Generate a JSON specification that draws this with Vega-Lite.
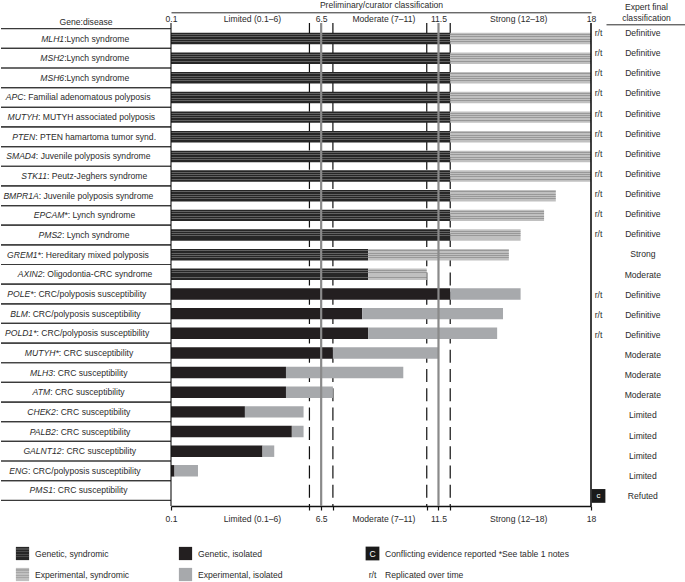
{
  "$schema": "https://vega.github.io/schema/vega-lite/v6.json",
  "padding": {"left": 0, "right": 0, "top": 0, "bottom": 0},
  "config": {
    "view": {"stroke": null},
    "font": "Liberation Sans",
    "text": {"font": "Liberation Sans", "fontSize": 8.6, "color": "#2b2b2b"},
    "axis": {"labelFont": "Liberation Sans", "titleFont": "Liberation Sans"},
    "title": {"font": "Liberation Sans"},
    "concat": {"spacing": 0}
  },
  "datasets": {
    "genes": [
      {"gene": "MLH1", "disease": ":Lynch syndrome", "replicated": "r/t", "classification": "Definitive", "conflict": ""},
      {"gene": "MSH2", "disease": ":Lynch syndrome", "replicated": "r/t", "classification": "Definitive", "conflict": ""},
      {"gene": "MSH6", "disease": ":Lynch syndrome", "replicated": "r/t", "classification": "Definitive", "conflict": ""},
      {"gene": "APC", "disease": ": Familial adenomatous polyposis", "replicated": "r/t", "classification": "Definitive", "conflict": ""},
      {"gene": "MUTYH", "disease": ": MUTYH associated polyposis", "replicated": "r/t", "classification": "Definitive", "conflict": ""},
      {"gene": "PTEN", "disease": ": PTEN hamartoma tumor synd.", "replicated": "r/t", "classification": "Definitive", "conflict": ""},
      {"gene": "SMAD4", "disease": ": Juvenile polyposis syndrome", "replicated": "r/t", "classification": "Definitive", "conflict": ""},
      {"gene": "STK11", "disease": ": Peutz-Jeghers syndrome", "replicated": "r/t", "classification": "Definitive", "conflict": ""},
      {"gene": "BMPR1A", "disease": ": Juvenile polyposis syndrome", "replicated": "r/t", "classification": "Definitive", "conflict": ""},
      {"gene": "EPCAM*", "disease": ": Lynch syndrome", "replicated": "r/t", "classification": "Definitive", "conflict": ""},
      {"gene": "PMS2", "disease": ": Lynch syndrome", "replicated": "r/t", "classification": "Definitive", "conflict": ""},
      {"gene": "GREM1*", "disease": ": Hereditary mixed polyposis", "replicated": "", "classification": "Strong", "conflict": ""},
      {"gene": "AXIN2", "disease": ": Oligodontia-CRC syndrome", "replicated": "", "classification": "Moderate", "conflict": ""},
      {"gene": "POLE*", "disease": ": CRC/polyposis susceptibility", "replicated": "r/t", "classification": "Definitive", "conflict": ""},
      {"gene": "BLM", "disease": ": CRC/polyposis susceptibility", "replicated": "r/t", "classification": "Definitive", "conflict": ""},
      {"gene": "POLD1*", "disease": ": CRC/polyposis susceptibility", "replicated": "r/t", "classification": "Definitive", "conflict": ""},
      {"gene": "MUTYH*", "disease": ": CRC susceptibility", "replicated": "", "classification": "Moderate", "conflict": ""},
      {"gene": "MLH3", "disease": ": CRC susceptibility", "replicated": "", "classification": "Moderate", "conflict": ""},
      {"gene": "ATM", "disease": ": CRC susceptibility", "replicated": "", "classification": "Moderate", "conflict": ""},
      {"gene": "CHEK2", "disease": ": CRC susceptibility", "replicated": "", "classification": "Limited", "conflict": ""},
      {"gene": "PALB2", "disease": ": CRC susceptibility", "replicated": "", "classification": "Limited", "conflict": ""},
      {"gene": "GALNT12", "disease": ": CRC susceptibility", "replicated": "", "classification": "Limited", "conflict": ""},
      {"gene": "ENG", "disease": ": CRC/polyposis susceptibility", "replicated": "", "classification": "Limited", "conflict": ""},
      {"gene": "PMS1", "disease": ": CRC susceptibility", "replicated": "", "classification": "Refuted", "conflict": "c"}
    ],
    "scores": [
      {"gene": "MLH1", "evidence": "Genetic, syndromic", "score": 12},
      {"gene": "MLH1", "evidence": "Experimental, syndromic", "score": 6},
      {"gene": "MSH2", "evidence": "Genetic, syndromic", "score": 12},
      {"gene": "MSH2", "evidence": "Experimental, syndromic", "score": 6},
      {"gene": "MSH6", "evidence": "Genetic, syndromic", "score": 12},
      {"gene": "MSH6", "evidence": "Experimental, syndromic", "score": 6},
      {"gene": "APC", "evidence": "Genetic, syndromic", "score": 12},
      {"gene": "APC", "evidence": "Experimental, syndromic", "score": 6},
      {"gene": "MUTYH", "evidence": "Genetic, syndromic", "score": 12},
      {"gene": "MUTYH", "evidence": "Experimental, syndromic", "score": 6},
      {"gene": "PTEN", "evidence": "Genetic, syndromic", "score": 12},
      {"gene": "PTEN", "evidence": "Experimental, syndromic", "score": 6},
      {"gene": "SMAD4", "evidence": "Genetic, syndromic", "score": 12},
      {"gene": "SMAD4", "evidence": "Experimental, syndromic", "score": 6},
      {"gene": "STK11", "evidence": "Genetic, syndromic", "score": 12},
      {"gene": "STK11", "evidence": "Experimental, syndromic", "score": 6},
      {"gene": "BMPR1A", "evidence": "Genetic, syndromic", "score": 12},
      {"gene": "BMPR1A", "evidence": "Experimental, syndromic", "score": 4.5},
      {"gene": "EPCAM*", "evidence": "Genetic, syndromic", "score": 12},
      {"gene": "EPCAM*", "evidence": "Experimental, syndromic", "score": 4},
      {"gene": "PMS2", "evidence": "Genetic, syndromic", "score": 12},
      {"gene": "PMS2", "evidence": "Experimental, syndromic", "score": 3},
      {"gene": "GREM1*", "evidence": "Genetic, syndromic", "score": 8.5},
      {"gene": "GREM1*", "evidence": "Experimental, syndromic", "score": 6},
      {"gene": "AXIN2", "evidence": "Genetic, syndromic", "score": 8.5},
      {"gene": "AXIN2", "evidence": "Experimental, syndromic", "score": 2.5},
      {"gene": "POLE*", "evidence": "Genetic, isolated", "score": 12},
      {"gene": "POLE*", "evidence": "Experimental, isolated", "score": 3},
      {"gene": "BLM", "evidence": "Genetic, isolated", "score": 8.25},
      {"gene": "BLM", "evidence": "Experimental, isolated", "score": 6},
      {"gene": "POLD1*", "evidence": "Genetic, isolated", "score": 8.5},
      {"gene": "POLD1*", "evidence": "Experimental, isolated", "score": 5.5},
      {"gene": "MUTYH*", "evidence": "Genetic, isolated", "score": 7},
      {"gene": "MUTYH*", "evidence": "Experimental, isolated", "score": 4.5},
      {"gene": "MLH3", "evidence": "Genetic, isolated", "score": 5},
      {"gene": "MLH3", "evidence": "Experimental, isolated", "score": 5},
      {"gene": "ATM", "evidence": "Genetic, isolated", "score": 5},
      {"gene": "ATM", "evidence": "Experimental, isolated", "score": 2},
      {"gene": "CHEK2", "evidence": "Genetic, isolated", "score": 3.25},
      {"gene": "CHEK2", "evidence": "Experimental, isolated", "score": 2.5},
      {"gene": "PALB2", "evidence": "Genetic, isolated", "score": 5.25},
      {"gene": "PALB2", "evidence": "Experimental, isolated", "score": 0.5},
      {"gene": "GALNT12", "evidence": "Genetic, isolated", "score": 4},
      {"gene": "GALNT12", "evidence": "Experimental, isolated", "score": 0.5},
      {"gene": "ENG", "evidence": "Genetic, isolated", "score": 0.25},
      {"gene": "ENG", "evidence": "Experimental, isolated", "score": 1},
      {"gene": "PMS1", "evidence": "Genetic, isolated", "score": 0},
      {"gene": "PMS1", "evidence": "Experimental, isolated", "score": 0}
    ],
    "boundaries": [
      {"value": 6, "line": "edge"},
      {"value": 7, "line": "edge"},
      {"value": 11, "line": "edge"},
      {"value": 12, "line": "edge"},
      {"value": 6.5, "line": "midpoint"},
      {"value": 11.5, "line": "midpoint"}
    ],
    "legend": [
      {"entry": "Genetic, syndromic", "column": "syndromic", "line": "top", "symbol": ""},
      {"entry": "Experimental, syndromic", "column": "syndromic", "line": "bottom", "symbol": ""},
      {"entry": "Genetic, isolated", "column": "isolated", "line": "top", "symbol": ""},
      {"entry": "Experimental, isolated", "column": "isolated", "line": "bottom", "symbol": ""},
      {"entry": "Conflicting evidence reported *See table 1 notes", "column": "notes", "line": "top", "symbol": "C"},
      {"entry": "Replicated over time", "column": "notes", "line": "bottom", "symbol": "r/t"}
    ]
  },
  "spacing": 20,
  "vconcat": [
    {
      "spacing": 0,
      "bounds": "flush",
      "hconcat": [
        {
          "width": 170,
          "height": 483,
          "data": {"name": "genes"},
          "title": {"text": "Gene:disease", "fontSize": 8.6, "fontWeight": "normal", "color": "#2b2b2b", "anchor": "middle", "offset": -11, "baseline": "alphabetic"},
          "layer": [
            {
              "mark": {"type": "rule", "color": "#3a3a3a", "strokeWidth": 1.2},
              "encoding": {"y": {"field": "gene", "type": "nominal", "sort": null, "bandPosition": 0, "axis": null, "scale": {"paddingInner": 0, "paddingOuter": 0.29}}}
            },
            {
              "mark": {"type": "rule", "color": "#3a3a3a", "strokeWidth": 1.2},
              "encoding": {"y": {"field": "gene", "type": "nominal", "sort": null, "bandPosition": 1, "axis": null}}
            },
            {
              "mark": {"type": "text", "align": "right", "fontStyle": "italic", "fontSize": 8.6, "dx": {"expr": "(length(datum.gene)*5.75 - length(datum.disease)*4.45)/2"}},
              "encoding": {
                "x": {"datum": 0.5, "type": "quantitative", "scale": {"domain": [0, 1]}, "axis": null},
                "y": {"field": "gene", "type": "nominal", "sort": null, "axis": null},
                "text": {"field": "gene"}
              }
            },
            {
              "mark": {"type": "text", "align": "left", "fontSize": 8.6, "dx": {"expr": "(length(datum.gene)*5.75 - length(datum.disease)*4.45)/2"}},
              "encoding": {
                "x": {"datum": 0.5, "type": "quantitative"},
                "y": {"field": "gene", "type": "nominal", "sort": null, "axis": null},
                "text": {"field": "disease"}
              }
            }
          ]
        },
        {
          "width": 420,
          "height": 483,
          "resolve": {"axis": {"x": "independent"}},
          "layer": [
            {
              "data": {"name": "boundaries"},
              "transform": [{"filter": "datum.line == 'edge'"}],
              "mark": {"type": "rule", "color": "#111111", "strokeWidth": 1.2, "strokeDash": [13, 6.3], "strokeDashOffset": 1.4},
              "encoding": {"x": {"field": "value", "type": "quantitative", "axis": null, "scale": {"domain": [0.1, 18], "nice": false, "zero": false}}}
            },
            {
              "data": {"name": "scores"},
              "mark": {"type": "bar", "clip": true},
              "encoding": {
                "y": {"field": "gene", "type": "nominal", "sort": null, "axis": null, "scale": {"paddingInner": 0.415, "paddingOuter": 0.4975}},
                "x": {
                  "field": "score", "type": "quantitative", "stack": "zero",
                  "axis": {
                    "orient": "top",
                    "values": [0.1, 3.55, 6.5, 9.15, 11.5, 14.9, 18],
                    "labelExpr": "datum.value == 0.1 ? '0.1' : datum.value == 3.55 ? 'Limited (0.1–6)' : datum.value == 6.5 ? '6.5' : datum.value == 9.15 ? 'Moderate (7–11)' : datum.value == 11.5 ? '11.5' : datum.value == 14.9 ? 'Strong (12–18)' : datum.value == 18 ? '18' : ''",
                    "domain": true, "domainColor": "#2b2b2b", "domainWidth": 1,
                    "offset": 10.7, "ticks": false, "grid": false,
                    "labelPadding": -9, "labelBaseline": "alphabetic",
                    "labelFontSize": 8.6, "labelColor": "#2b2b2b", "labelFlush": false, "labelOverlap": false,
                    "title": "Preliminary/curator classification", "titleFontSize": 8.6, "titleFontWeight": "normal", "titleColor": "#2b2b2b", "titlePadding": 3
                  }
                },
                "color": {
                  "field": "evidence", "type": "nominal", "legend": null,
                  "scale": {
                    "domain": ["Genetic, syndromic", "Experimental, syndromic", "Genetic, isolated", "Experimental, isolated"],
                    "range": ["#262626", "#c0c0c0", "#231f20", "#a7a9ac"]
                  }
                },
                "order": {"field": "evidence", "sort": "descending"}
              }
            },
            {
              "data": {"name": "scores"},
              "mark": {
                "type": "bar", "clip": true,
                "fill": {"gradient": "linear", "x1": 0, "y1": 0, "x2": 0, "y2": 1, "stops": [
                  {"offset": 0, "color": "rgba(0,0,0,0)"}, {"offset": 0.12, "color": "rgba(0,0,0,0)"}, {"offset": 0.12, "color": "rgba(170,170,170,0.45)"}, {"offset": 0.2, "color": "rgba(170,170,170,0.45)"},
                  {"offset": 0.2, "color": "rgba(0,0,0,0)"}, {"offset": 0.32, "color": "rgba(0,0,0,0)"}, {"offset": 0.32, "color": "rgba(170,170,170,0.45)"}, {"offset": 0.4, "color": "rgba(170,170,170,0.45)"},
                  {"offset": 0.4, "color": "rgba(0,0,0,0)"}, {"offset": 0.52, "color": "rgba(0,0,0,0)"}, {"offset": 0.52, "color": "rgba(170,170,170,0.45)"}, {"offset": 0.6, "color": "rgba(170,170,170,0.45)"},
                  {"offset": 0.6, "color": "rgba(0,0,0,0)"}, {"offset": 0.72, "color": "rgba(0,0,0,0)"}, {"offset": 0.72, "color": "rgba(170,170,170,0.45)"}, {"offset": 0.8, "color": "rgba(170,170,170,0.45)"},
                  {"offset": 0.8, "color": "rgba(0,0,0,0)"}, {"offset": 1, "color": "rgba(0,0,0,0)"}
                ]}
              },
              "encoding": {
                "y": {"field": "gene", "type": "nominal", "sort": null, "axis": null},
                "x": {"field": "score", "type": "quantitative", "stack": "zero", "axis": null},
                "opacity": {"condition": {"test": "datum.evidence == 'Genetic, syndromic'", "value": 1}, "value": 0},
                "order": {"field": "evidence", "sort": "descending"}
              }
            },
            {
              "data": {"name": "scores"},
              "mark": {
                "type": "bar", "clip": true,
                "fill": {"gradient": "linear", "x1": 0, "y1": 0, "x2": 0, "y2": 1, "stops": [
                  {"offset": 0, "color": "rgba(0,0,0,0)"}, {"offset": 0.12, "color": "rgba(0,0,0,0)"}, {"offset": 0.12, "color": "rgba(60,60,60,0.3)"}, {"offset": 0.2, "color": "rgba(60,60,60,0.3)"},
                  {"offset": 0.2, "color": "rgba(0,0,0,0)"}, {"offset": 0.32, "color": "rgba(0,0,0,0)"}, {"offset": 0.32, "color": "rgba(60,60,60,0.3)"}, {"offset": 0.4, "color": "rgba(60,60,60,0.3)"},
                  {"offset": 0.4, "color": "rgba(0,0,0,0)"}, {"offset": 0.52, "color": "rgba(0,0,0,0)"}, {"offset": 0.52, "color": "rgba(60,60,60,0.3)"}, {"offset": 0.6, "color": "rgba(60,60,60,0.3)"},
                  {"offset": 0.6, "color": "rgba(0,0,0,0)"}, {"offset": 0.72, "color": "rgba(0,0,0,0)"}, {"offset": 0.72, "color": "rgba(60,60,60,0.3)"}, {"offset": 0.8, "color": "rgba(60,60,60,0.3)"},
                  {"offset": 0.8, "color": "rgba(0,0,0,0)"}, {"offset": 1, "color": "rgba(0,0,0,0)"}
                ]}
              },
              "encoding": {
                "y": {"field": "gene", "type": "nominal", "sort": null, "axis": null},
                "x": {"field": "score", "type": "quantitative", "stack": "zero", "axis": null},
                "opacity": {"condition": {"test": "datum.evidence == 'Experimental, syndromic'", "value": 1}, "value": 0},
                "order": {"field": "evidence", "sort": "descending"}
              }
            },
            {
              "data": {"name": "boundaries"},
              "transform": [{"filter": "datum.line == 'midpoint'"}],
              "mark": {"type": "rule", "color": "#8a8a8a", "strokeWidth": 2.2},
              "encoding": {"x": {"field": "value", "type": "quantitative", "axis": null}}
            },
            {
              "data": {"values": [{}]},
              "mark": {"type": "rule", "color": "#111111", "strokeWidth": 1.1},
              "encoding": {"x": {"datum": 0.1, "type": "quantitative", "axis": null}}
            },
            {
              "data": {"values": [{}]},
              "mark": {"type": "rule", "color": "#111111", "strokeWidth": 1.6},
              "encoding": {
                "x": {
                  "datum": 18, "type": "quantitative",
                  "axis": {
                    "orient": "bottom",
                    "values": [0.1, 3.55, 6, 6.5, 7, 9.15, 11, 11.5, 12, 14.9, 18],
                    "labelExpr": "datum.value == 0.1 ? '0.1' : datum.value == 3.55 ? 'Limited (0.1–6)' : datum.value == 6.5 ? '6.5' : datum.value == 9.15 ? 'Moderate (7–11)' : datum.value == 11.5 ? '11.5' : datum.value == 14.9 ? 'Strong (12–18)' : datum.value == 18 ? '18' : ''",
                    "domain": true, "domainColor": "#111111", "domainWidth": 1.6,
                    "ticks": true, "tickSize": 4, "tickColor": "#111111", "tickWidth": 1.2,
                    "tickOpacity": {"condition": {"test": "datum.value == 3.55 || datum.value == 9.15 || datum.value == 14.9", "value": 0}, "value": 1},
                    "grid": false, "labelPadding": 4,
                    "labelFontSize": 8.6, "labelColor": "#2b2b2b", "labelFlush": false, "labelOverlap": false,
                    "title": null
                  }
                }
              }
            }
          ]
        },
        {
          "width": 15,
          "height": 483,
          "data": {"name": "genes"},
          "layer": [
            {
              "mark": {"type": "text", "fontSize": 8.6},
              "encoding": {
                "x": {"datum": 0.5, "type": "quantitative", "scale": {"domain": [0, 1]}, "axis": null},
                "y": {"field": "gene", "type": "nominal", "sort": null, "axis": null, "scale": {"paddingInner": 0.415, "paddingOuter": 0.4975}},
                "text": {"field": "replicated"}
              }
            },
            {
              "transform": [{"filter": "datum.conflict != ''"}],
              "mark": {"type": "square", "size": 190, "filled": true, "opacity": 1, "color": "#1a1a1a"},
              "encoding": {
                "x": {"datum": 0.5, "type": "quantitative"},
                "y": {"field": "gene", "type": "nominal", "sort": null, "axis": null}
              }
            },
            {
              "transform": [{"filter": "datum.conflict != ''"}],
              "mark": {"type": "text", "fontSize": 8, "color": "white"},
              "encoding": {
                "x": {"datum": 0.5, "type": "quantitative"},
                "y": {"field": "gene", "type": "nominal", "sort": null, "axis": null},
                "text": {"field": "conflict"}
              }
            }
          ]
        },
        {
          "width": 80,
          "height": 483,
          "data": {"name": "genes"},
          "mark": {"type": "text", "fontSize": 8.6},
          "encoding": {
            "x": {
              "datum": 0.46, "type": "quantitative", "scale": {"domain": [0, 1]},
              "axis": {
                "orient": "top", "domain": true, "domainColor": "#2b2b2b", "domainWidth": 1,
                "labels": false, "ticks": false, "grid": false, "offset": -1.3,
                "title": ["Expert final", "classification"], "titleFontSize": 8.6, "titleFontWeight": "normal",
                "titleColor": "#2b2b2b", "titlePadding": 2, "titleLineHeight": 11
              }
            },
            "y": {"field": "gene", "type": "nominal", "sort": null, "axis": null, "scale": {"paddingInner": 0.415, "paddingOuter": 0.4975}},
            "text": {"field": "classification"}
          }
        }
      ]
    },
    {
      "spacing": 0,
      "bounds": "flush",
      "hconcat": [
        {
          "width": 163,
          "height": 42,
          "data": {"name": "legend"},
          "transform": [{"filter": "datum.column == 'syndromic'"}],
          "layer": [
            {
              "mark": {"type": "square", "size": 175, "filled": true, "opacity": 1},
              "encoding": {
                "x": {"value": 21.5},
                "y": {"field": "line", "type": "nominal", "sort": null, "axis": null, "scale": {"paddingInner": 0, "paddingOuter": 0}},
                "color": {"field": "entry", "type": "nominal", "legend": null}
              }
            },
            {
              "mark": {
                "type": "square", "size": 175, "filled": true,
                "fill": {"gradient": "linear", "x1": 0, "y1": 0, "x2": 0, "y2": 1, "stops": [
                  {"offset": 0, "color": "rgba(0,0,0,0)"}, {"offset": 0.12, "color": "rgba(0,0,0,0)"}, {"offset": 0.12, "color": "rgba(128,128,128,0.4)"}, {"offset": 0.2, "color": "rgba(128,128,128,0.4)"},
                  {"offset": 0.2, "color": "rgba(0,0,0,0)"}, {"offset": 0.32, "color": "rgba(0,0,0,0)"}, {"offset": 0.32, "color": "rgba(128,128,128,0.4)"}, {"offset": 0.4, "color": "rgba(128,128,128,0.4)"},
                  {"offset": 0.4, "color": "rgba(0,0,0,0)"}, {"offset": 0.52, "color": "rgba(0,0,0,0)"}, {"offset": 0.52, "color": "rgba(128,128,128,0.4)"}, {"offset": 0.6, "color": "rgba(128,128,128,0.4)"},
                  {"offset": 0.6, "color": "rgba(0,0,0,0)"}, {"offset": 0.72, "color": "rgba(0,0,0,0)"}, {"offset": 0.72, "color": "rgba(128,128,128,0.4)"}, {"offset": 0.8, "color": "rgba(128,128,128,0.4)"},
                  {"offset": 0.8, "color": "rgba(0,0,0,0)"}, {"offset": 1, "color": "rgba(0,0,0,0)"}
                ]}
              },
              "encoding": {
                "x": {"value": 21.5},
                "y": {"field": "line", "type": "nominal", "sort": null, "axis": null},
                "opacity": {"value": 1}
              }
            },
            {
              "mark": {"type": "text", "align": "left", "fontSize": 8.6},
              "encoding": {
                "x": {"value": 34},
                "y": {"field": "line", "type": "nominal", "sort": null, "axis": null},
                "text": {"field": "entry"}
              }
            }
          ]
        },
        {
          "width": 187,
          "height": 42,
          "data": {"name": "legend"},
          "transform": [{"filter": "datum.column == 'isolated'"}],
          "layer": [
            {
              "mark": {"type": "square", "size": 175, "filled": true, "opacity": 1},
              "encoding": {
                "x": {"value": 21.5},
                "y": {"field": "line", "type": "nominal", "sort": null, "axis": null, "scale": {"paddingInner": 0, "paddingOuter": 0}},
                "color": {"field": "entry", "type": "nominal", "legend": null}
              }
            },
            {
              "mark": {"type": "text", "align": "left", "fontSize": 8.6},
              "encoding": {
                "x": {"value": 34},
                "y": {"field": "line", "type": "nominal", "sort": null, "axis": null},
                "text": {"field": "entry"}
              }
            }
          ]
        },
        {
          "width": 333,
          "height": 42,
          "data": {"name": "legend"},
          "transform": [{"filter": "datum.column == 'notes'"}],
          "layer": [
            {
              "transform": [{"filter": "datum.symbol == 'C'"}],
              "mark": {"type": "square", "size": 190, "filled": true, "opacity": 1, "color": "#1a1a1a"},
              "encoding": {
                "x": {"value": 21.5},
                "y": {"field": "line", "type": "nominal", "sort": null, "axis": null, "scale": {"domain": ["top", "bottom"], "paddingInner": 0, "paddingOuter": 0}}
              }
            },
            {
              "mark": {"type": "text", "fontSize": 8.6},
              "encoding": {
                "x": {"value": 21.5},
                "y": {"field": "line", "type": "nominal", "sort": null, "axis": null},
                "text": {"field": "symbol"},
                "color": {"condition": {"test": "datum.symbol == 'C'", "value": "white"}, "value": "#2b2b2b"}
              }
            },
            {
              "mark": {"type": "text", "align": "left", "fontSize": 8.6},
              "encoding": {
                "x": {"value": 34},
                "y": {"field": "line", "type": "nominal", "sort": null, "axis": null},
                "text": {"field": "entry"}
              }
            }
          ]
        }
      ]
    }
  ]
}
